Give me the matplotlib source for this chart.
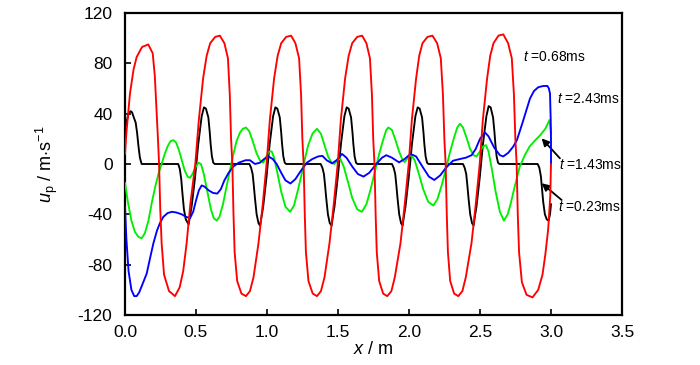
import matplotlib
matplotlib.use("Agg")
import matplotlib.pyplot as plt
from matplotlib import font_manager

names = {f.name for f in font_manager.fontManager.ttflist}
FONT = "Liberation Sans Narrow" if "Liberation Sans Narrow" in names else "Liberation Sans"
plt.rcParams["font.family"] = [FONT, "DejaVu Sans"]
plt.rcParams["mathtext.fontset"] = "custom"
plt.rcParams["mathtext.rm"] = FONT
plt.rcParams["mathtext.it"] = FONT + ":italic"

# ---------------- data ----------------
red_x = [0.000, 0.010, 0.035, 0.060, 0.082, 0.120, 0.164, 0.195, 0.210, 0.222, 0.232, 0.240, 0.248, 0.258,
         0.275, 0.310, 0.352, 0.385, 0.410, 0.434, 0.460, 0.495,
         0.520, 0.550, 0.575, 0.600, 0.635, 0.668, 0.700, 0.725, 0.738, 0.747, 0.756, 0.764, 0.772, 0.790,
         0.820, 0.852, 0.880, 0.905, 0.940, 0.970, 0.997,
         1.020, 1.050, 1.075, 1.100, 1.135, 1.170, 1.200, 1.226, 1.240, 1.249, 1.258, 1.266, 1.274, 1.292,
         1.322, 1.352, 1.380, 1.405, 1.440, 1.470, 1.498,
         1.520, 1.550, 1.575, 1.600, 1.635, 1.670, 1.700, 1.725, 1.739, 1.748, 1.757, 1.765, 1.773, 1.790,
         1.818, 1.847, 1.876, 1.900, 1.940, 1.970, 1.998,
         2.020, 2.050, 2.072, 2.095, 2.130, 2.165, 2.198, 2.224, 2.239, 2.249, 2.258, 2.266, 2.274, 2.290,
         2.318, 2.347, 2.376, 2.400, 2.440, 2.470, 2.498,
         2.520, 2.550, 2.572, 2.595, 2.630, 2.664, 2.698, 2.724, 2.739, 2.749, 2.758, 2.766, 2.775, 2.795,
         2.828, 2.870, 2.910, 2.940, 2.960, 2.980, 2.995, 3.000]
red_y = [8, 25, 56, 75, 85, 93, 95, 88, 70, 43, 20, 0, -35, -63,
         -88, -101, -105, -98, -85, -63, -32, 0,
         35, 68, 86, 96, 101, 102, 96, 84, 55, 20, 0, -40, -70, -93,
         -103, -105, -101, -90, -63, -32, 0,
         35, 68, 86, 96, 101, 102, 96, 84, 55, 20, 0, -40, -70, -93,
         -103, -105, -101, -90, -63, -32, 0,
         35, 68, 86, 96, 101, 102, 96, 84, 55, 20, 0, -40, -70, -93,
         -103, -105, -101, -90, -63, -32, 0,
         35, 68, 86, 96, 101, 102, 96, 84, 55, 20, 0, -40, -70, -93,
         -103, -105, -101, -90, -63, -32, 0,
         35, 68, 86, 96, 102, 103, 96, 84, 55, 20, 0, -40, -70, -94,
         -104, -106, -100, -88, -72, -52, -25, 0]

black_x = [0.000, 0.012, 0.025, 0.040, 0.050, 0.062, 0.075, 0.085, 0.095, 0.105, 0.117, 0.375, 0.386, 0.396,
           0.405, 0.415, 0.428, 0.448, 0.460, 0.470, 0.493, 0.516, 0.540, 0.556, 0.570, 0.587, 0.597, 0.603,
           0.612, 0.622, 0.632,
           0.876, 0.888, 0.899, 0.907, 0.915, 0.927, 0.940, 0.951, 0.963, 0.973, 0.996, 1.019, 1.043, 1.059,
           1.073, 1.090, 1.100, 1.106, 1.115, 1.125, 1.135,
           1.378, 1.390, 1.401, 1.409, 1.417, 1.429, 1.442, 1.455, 1.465, 1.475, 1.498, 1.521, 1.545, 1.561,
           1.575, 1.592, 1.602, 1.608, 1.617, 1.627, 1.637,
           1.880, 1.892, 1.903, 1.911, 1.919, 1.931, 1.944, 1.955, 1.965, 1.975, 1.998, 2.021, 2.045, 2.061,
           2.075, 2.092, 2.102, 2.108, 2.117, 2.127, 2.137,
           2.380, 2.392, 2.403, 2.411, 2.419, 2.431, 2.444, 2.455, 2.465, 2.475, 2.498, 2.521, 2.545, 2.561,
           2.575, 2.592, 2.602, 2.608, 2.617, 2.627, 2.637,
           2.906, 2.918, 2.929, 2.937, 2.945, 2.957, 2.970, 2.983, 2.993, 3.000]
black_y = [22, 34, 40, 42, 41, 37, 33, 25, 14, 5, 0, 0, -4, -12,
           -24, -36, -44, -48, -40, -33, -11, 16, 38, 45, 44, 37, 25, 16,
           6, 1, 0,
           0, -3, -8, -17, -27, -40, -47, -49, -41, -34, -11, 16, 38, 45,
           44, 37, 25, 16, 6, 1, 0,
           0, -3, -8, -17, -27, -40, -47, -49, -41, -34, -11, 16, 38, 45,
           44, 37, 25, 16, 6, 1, 0,
           0, -3, -8, -17, -27, -40, -47, -49, -41, -34, -11, 16, 38, 45,
           44, 37, 25, 16, 6, 1, 0,
           0, -3, -8, -17, -27, -40, -47, -49, -41, -34, -11, 16, 38, 46,
           45, 37, 25, 16, 6, 1, 0,
           0, -3, -10, -20, -30, -40, -44, -45, -40, -32]

green_x = [0.000, 0.020, 0.045, 0.070, 0.095, 0.117, 0.140, 0.165, 0.190, 0.215, 0.240, 0.258, 0.280, 0.300,
           0.320, 0.340, 0.360, 0.380, 0.400, 0.420, 0.440, 0.458, 0.475, 0.495, 0.516, 0.535, 0.555, 0.580,
           0.605, 0.625, 0.646, 0.665, 0.690, 0.715, 0.739, 0.760, 0.785, 0.810, 0.830, 0.852, 0.875, 0.900,
           0.925, 0.950, 0.974, 0.995, 1.015, 1.033, 1.050, 1.075, 1.100, 1.130, 1.163, 1.190, 1.215, 1.240,
           1.265, 1.290, 1.320, 1.352, 1.380, 1.405, 1.430, 1.455, 1.475, 1.497, 1.517, 1.540, 1.570, 1.600,
           1.635, 1.668, 1.700, 1.730, 1.760, 1.790, 1.820, 1.840, 1.855, 1.880, 1.905, 1.930, 1.955, 1.970,
           1.993, 2.015, 2.040, 2.070, 2.100, 2.135, 2.171, 2.200, 2.230, 2.260, 2.290, 2.320, 2.340, 2.359,
           2.380, 2.405, 2.430, 2.455, 2.475, 2.500, 2.522, 2.542, 2.560, 2.585, 2.610, 2.640, 2.668, 2.695,
           2.715, 2.740, 2.780, 2.820, 2.850, 2.890, 2.925, 2.960, 2.990, 3.000]
green_y = [-15, -30, -45, -54, -58, -59, -55, -45, -30, -17, -6, 0, 8, 14,
           18, 19, 17, 11, 3, -5, -10, -11, -8, -3, 1, 0, -8, -22,
           -36, -43, -45, -42, -32, -18, -5, 6, 18, 25, 28, 29, 26, 18,
           9, 3, 1, 6, 10, 10, 5, -8, -22, -34, -38, -33, -22, -10,
           3, 15, 24, 28, 24, 15, 6, 1, 0, 3, 4, -2, -14, -27,
           -36, -38, -32, -20, -6, 8, 20, 27, 29, 27, 19, 10, 3, 1.5,
           5, 7, 3, -8, -20, -30, -33, -28, -17, -4, 10, 22, 29, 32,
           29, 21, 12, 7, 6, 10, 14, 15, 10, -5, -22, -38, -45, -40,
           -32, -20, -2, 8, 14, 19, 23, 28, 35, 24]

blue_x = [0.000, 0.010, 0.025, 0.045, 0.065, 0.082, 0.100, 0.125, 0.153, 0.180, 0.200, 0.225, 0.246, 0.270,
          0.300, 0.330, 0.360, 0.400, 0.430, 0.458, 0.480, 0.500, 0.520, 0.540, 0.560, 0.590, 0.620, 0.650,
          0.675, 0.700, 0.730, 0.763, 0.800, 0.850, 0.880, 0.915, 0.950, 0.980, 1.010, 1.040, 1.068, 1.100,
          1.130, 1.165, 1.200, 1.235, 1.280, 1.320, 1.360, 1.390, 1.420, 1.458, 1.490, 1.528, 1.560, 1.600,
          1.640, 1.680, 1.720, 1.770, 1.810, 1.840, 1.880, 1.930, 1.970, 2.010, 2.050, 2.100, 2.140, 2.178,
          2.220, 2.260, 2.310, 2.360, 2.400, 2.441, 2.470, 2.500, 2.535, 2.560, 2.600, 2.640, 2.664, 2.700,
          2.735, 2.760, 2.800, 2.830, 2.852, 2.880, 2.910, 2.946, 2.975, 2.985, 2.993, 2.998, 3.000, 3.000]
blue_y = [-34, -60, -85, -100, -105, -105, -102, -95, -87, -73, -63, -53, -47, -42,
          -39, -38, -38.5, -40, -42, -43, -38, -29, -21, -17, -18, -21, -23, -23.5,
          -20, -13, -7, -2, 1, 3, 3, 0, 1, 4, 6, 4, 0, -7,
          -13, -15.5, -12, -6, 1, 4, 6, 6.5, 3, 0.5, 3, 8, 5, -2,
          -8, -10, -7, 0, 5, 7, 5, 1.3, 4, 8, 6, -3, -10, -12.7,
          -9, -3, 2.6, 4, 5, 7, 12, 20, 25, 22, 13, 7, 6, 9,
          14, 19, 33, 44, 52, 58, 61, 62, 62, 60, 56, 35, 19, 0]

x_ticks = [0.0, 0.5, 1.0, 1.5, 2.0, 2.5, 3.0, 3.5]
y_ticks = [-120, -80, -40, 0, 40, 80, 120]

labels = ["$t$ =0.68ms", "$t$ =2.43ms", "$t$ =1.43ms", "$t$ =0.23ms"]

# ---------------- figure ----------------
fig = plt.figure(figsize=(7.0, 3.65), dpi=100)
ax = fig.add_axes([125 / 700, 1 - 315 / 365, 497 / 700, 302 / 365])

lw = 1.35
ax.plot(black_x, black_y, color="black", lw=lw, zorder=2)
ax.plot(green_x, green_y, color="#00ee00", lw=lw, zorder=3)
ax.plot(blue_x, blue_y, color="#0000ff", lw=lw, zorder=4)
ax.plot(red_x, red_y, color="#ff0000", lw=lw, zorder=5)

ax.set_xlim(0, 3.5)
ax.set_ylim(-120, 120)
ax.set_xticks(x_ticks)
ax.set_xticklabels([f"{v:.1f}" for v in x_ticks])
ax.set_yticks(y_ticks)
ax.set_yticklabels([str(v) for v in y_ticks])
ax.tick_params(direction="in", length=4, width=1.2, labelsize=12.5, top=False, right=False)
ax.tick_params(axis="y", pad=9)
ax.tick_params(axis="x", pad=7)
for s in ax.spines.values():
    s.set_linewidth(1.6)

ax.set_xlabel("$x$ / m", fontsize=13, labelpad=1)
ax.set_ylabel(r"$u_{\mathrm{p}}$ / m$\cdot$s$^{-1}$", fontsize=13, labelpad=13)

# annotations
ax.text(2.80, 85, labels[0], fontsize=10, va="center", ha="left")
ax.text(3.04, 51.7, labels[1], fontsize=10, va="center", ha="left")
ax.text(3.056, -0.8, labels[2], fontsize=10, va="center", ha="left")
ax.text(3.05, -34, labels[3], fontsize=10, va="center", ha="left")
ax.annotate("", xy=(2.934, 20.4), xytext=(3.063, 4.5),
            arrowprops=dict(arrowstyle="-|>", color="black", lw=1.3, mutation_scale=11, shrinkA=0, shrinkB=0))
ax.annotate("", xy=(2.934, -15.3), xytext=(3.075, -28.6),
            arrowprops=dict(arrowstyle="-|>", color="black", lw=1.3, mutation_scale=11, shrinkA=0, shrinkB=0))

fig.savefig("out.png", dpi=100)
